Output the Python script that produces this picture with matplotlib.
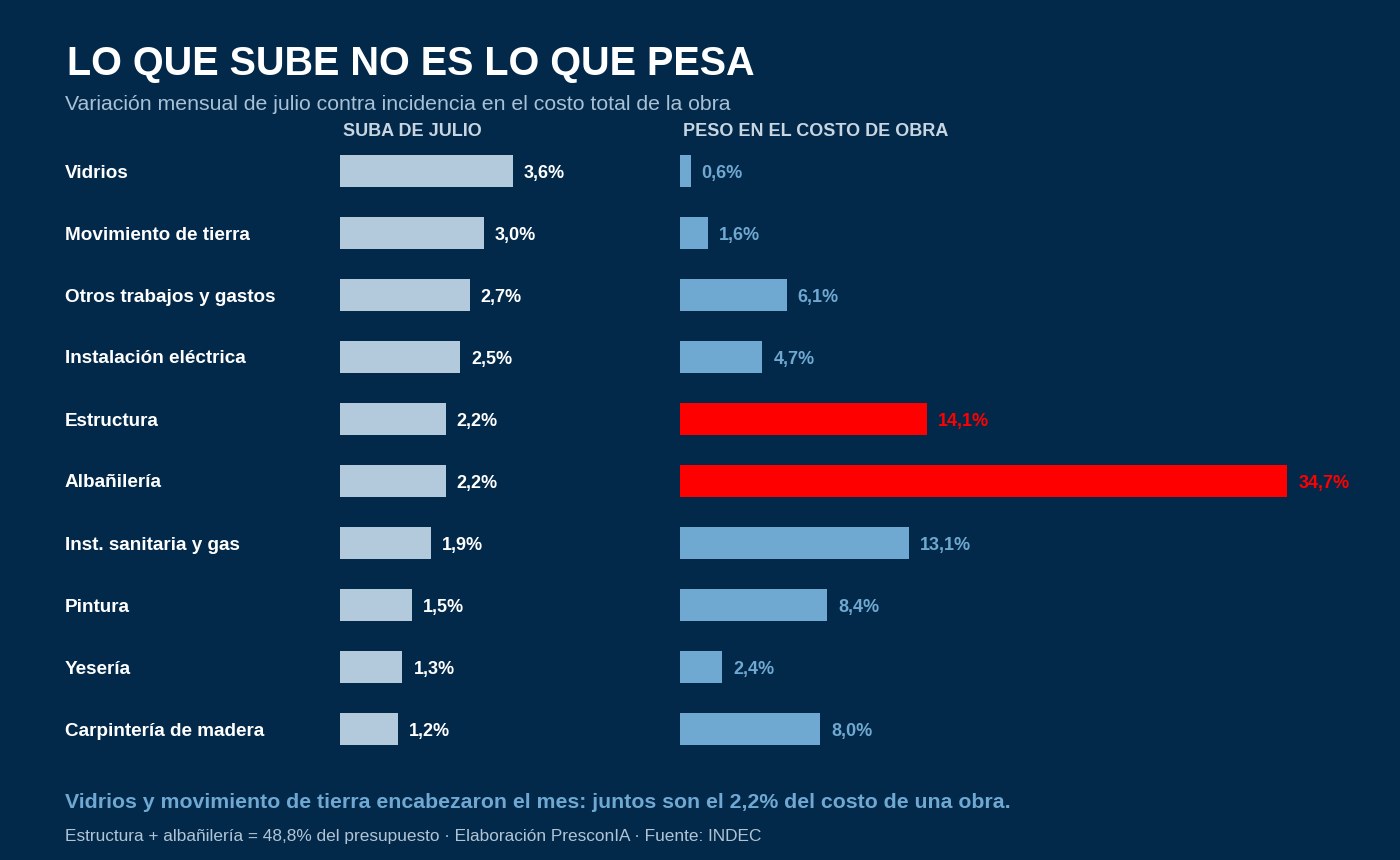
import matplotlib
matplotlib.use("Agg")
import matplotlib.pyplot as plt

plt.rcParams['font.family'] = ['Liberation Sans', 'DejaVu Sans']

categories = ["Vidrios", "Movimiento de tierra", "Otros trabajos y gastos",
              "Instalación eléctrica", "Estructura", "Albañilería",
              "Inst. sanitaria y gas", "Pintura", "Yesería", "Carpintería de madera"]
suba = [3.6, 3.0, 2.7, 2.5, 2.2, 2.2, 1.9, 1.5, 1.3, 1.2]
peso = [0.6, 1.6, 6.1, 4.7, 14.1, 34.7, 13.1, 8.4, 2.4, 8.0]
highlight = ["Estructura", "Albañilería"]

BG = "#03294A"
W, H = 1400, 860
fig = plt.figure(figsize=(14, 8.6), dpi=100, facecolor=BG)

def px_axes(x0, y_top, w, h):
    return fig.add_axes([x0 / W, 1 - (y_top + h) / H, w / W, h / H])

fmt = lambda v: f"{v:.1f}%".replace(".", ",")
ys = list(range(len(categories)))

axL = px_axes(340, 140, 300, 620)
axL.barh(ys, suba, height=0.516, color="#B3C9DC")
axL.set_xlim(0, 300 / 48)
for y, v in zip(ys, suba):
    axL.annotate(fmt(v), (v, y), xytext=(8, -1.5), textcoords="offset points",
                 va="center", ha="left", color="white", fontsize=13, fontweight="bold")

axR = px_axes(680, 140, 700, 620)
cols = ["#FF0000" if c in highlight else "#6FA8D0" for c in categories]
axR.barh(ys, peso, height=0.516, color=cols)
axR.set_xlim(0, 700 / 17.5)
for y, v, c in zip(ys, peso, cols):
    axR.annotate(fmt(v), (v, y), xytext=(8, -1.5), textcoords="offset points",
                 va="center", ha="left", color=c, fontsize=13, fontweight="bold")

for ax in (axL, axR):
    ax.set_ylim(9.5, -0.5)
    ax.set_facecolor("none")
    ax.axis("off")

for y, c in zip(ys, categories):
    fig.text(65 / W, 1 - (173 + 62 * y) / H, c, color="white", fontsize=13.6,
             fontweight="bold", va="center", ha="left")

fig.text(67 / W, 1 - 64 / H, "LO QUE SUBE NO ES LO QUE PESA", color="white",
         fontsize=28.5, fontweight="bold", va="center")
fig.text(65 / W, 1 - 104 / H, "Variación mensual de julio contra incidencia en el costo total de la obra",
         color="#A9C1D6", fontsize=15.3, va="center")
fig.text(343 / W, 1 - 132 / H, "SUBA DE JULIO", color="#C8D6E2", fontsize=13,
         fontweight="bold", va="center")
fig.text(683 / W, 1 - 132 / H, "PESO EN EL COSTO DE OBRA", color="#C8D6E2", fontsize=13,
         fontweight="bold", va="center")
fig.text(65 / W, 1 - 803 / H,
         "Vidrios y movimiento de tierra encabezaron el mes: juntos son el 2,2% del costo de una obra.",
         color="#6FA8D2", fontsize=15.3, fontweight="bold", va="center")
fig.text(65 / W, 1 - 837 / H,
         "Estructura + albañilería = 48,8% del presupuesto · Elaboración PresconIA · Fuente: INDEC",
         color="#B0C4D6", fontsize=12.4, va="center")

fig.savefig("out.png", dpi=100, facecolor=BG)
